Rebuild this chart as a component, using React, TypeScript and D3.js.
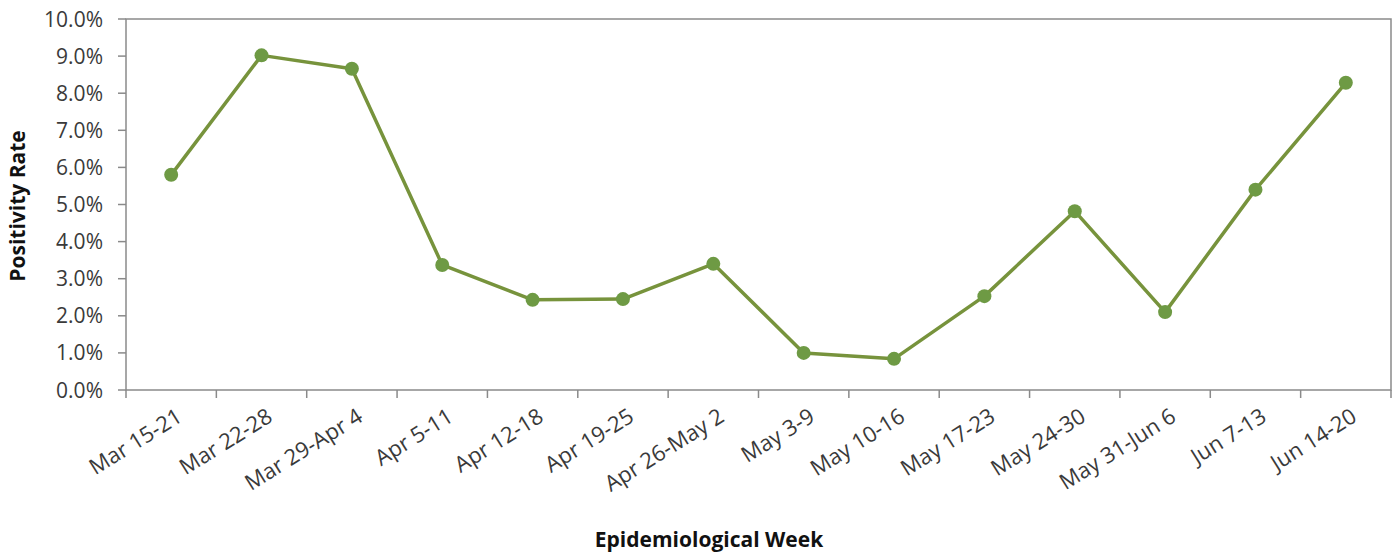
import React from "react";
import * as d3 from "d3";

const categories = [
  "Mar 15-21", "Mar 22-28", "Mar 29-Apr 4", "Apr 5-11", "Apr 12-18", "Apr 19-25",
  "Apr 26-May 2", "May 3-9", "May 10-16", "May 17-23", "May 24-30", "May 31-Jun 6",
  "Jun 7-13", "Jun 14-20",
];
const positivity = [5.8, 9.02, 8.66, 3.37, 2.43, 2.45, 3.4, 1.0, 0.84, 2.53, 4.82, 2.1, 5.4, 8.28];
const yTicks = [0, 1, 2, 3, 4, 5, 6, 7, 8, 9, 10];

const W = 1394, H = 557;
const M = { left: 126, right: 1391, top: 19, bottom: 390 };
const FONT = "'Open Sans', Lato, sans-serif";

export default function App() {
  const x = d3.scaleBand<string>().domain(categories).range([M.left, M.right]);
  const y = d3.scaleLinear().domain([0, 10]).range([M.bottom, M.top]);
  const line = d3.line<number>()
    .x((_, i) => (x(categories[i]) as number) + x.bandwidth() / 2)
    .y((d) => y(d));
  const boundaries = categories.map((c) => x(c) as number).concat([M.right]);
  const axisColor = "#8a8a8a";
  const textColor = "#3a3a3a";
  return (
    <svg width={W} height={H} style={{ position: "absolute", left: 0, top: 0, background: "#fff" }}>
      <rect x={M.left} y={M.top} width={M.right - M.left} height={M.bottom - M.top}
        fill="none" stroke={axisColor} strokeWidth={1.5} />
      {yTicks.map((t) => (
        <g key={t}>
          <line x1={M.left - 8} x2={M.left} y1={y(t)} y2={y(t)} stroke={axisColor} strokeWidth={1.5} />
          <text x={103} y={y(t)} dy="0.36em" textAnchor="end" fontFamily={FONT} fontSize={21} fill={textColor}>
            {t.toFixed(1) + "%"}
          </text>
        </g>
      ))}
      {boundaries.map((b, i) => (
        <line key={i} x1={b} x2={b} y1={M.bottom} y2={M.bottom + 8} stroke={axisColor} strokeWidth={1.5} />
      ))}
      {categories.map((c) => {
        const cx = (x(c) as number) + x.bandwidth() / 2 + 4;
        const cy = 407;
        return (
          <text key={c} x={cx} y={cy} textAnchor="end" dy="0.72em"
            transform={`rotate(-32, ${cx}, ${cy})`}
            fontFamily={FONT} fontSize={22} fill={textColor}>
            {c}
          </text>
        );
      })}
      <path d={line(positivity) || ""} fill="none" stroke="#77933C" strokeWidth={3.5} strokeLinejoin="round" />
      {positivity.map((v, i) => (
        <circle key={i} cx={(x(categories[i]) as number) + x.bandwidth() / 2} cy={y(v)} r={7} fill="#6E9A44" />
      ))}
      <text transform={`translate(25, 206) rotate(-90)`} textAnchor="middle"
        fontFamily={FONT} fontSize={21} fontWeight="bold" fill="#111">
        Positivity Rate
      </text>
      <text x={709} y={547} textAnchor="middle" fontFamily={FONT} fontSize={21} fontWeight="bold" fill="#111">
        Epidemiological Week
      </text>
    </svg>
  );
}
